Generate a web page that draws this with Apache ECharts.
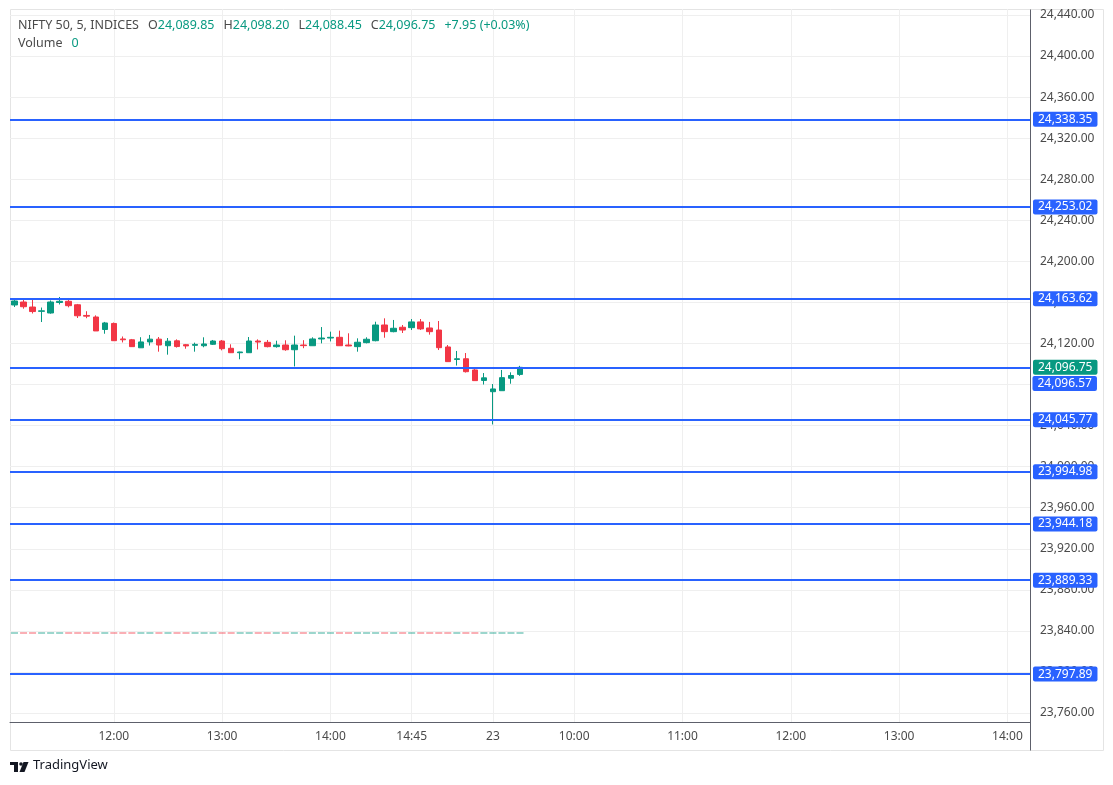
<!DOCTYPE html>
<html>
<head>
<meta charset="utf-8">
<title>NIFTY 50, 5</title>
<script src="https://cdn.jsdelivr.net/npm/echarts@6/dist/echarts.min.js"></script>
<style>
  html, body { margin: 0; padding: 0; background: #fff; }
  #main { width: 1113px; height: 785px; }
</style>
</head>
<body>
<div id="main"></div>
<script>
// 5 min candles, 22nd 11:05 -> 23rd 09:35
const opens = [24157.5, 24160.4, 24155.5, 24151.3, 24149.7, 24159.9, 24161.1, 24157.7, 24147.3, 24145.8,
  24133.6, 24139.5, 24124.4, 24123.6, 24115.8, 24121.5, 24124.2, 24117.8, 24122.6, 24118.8,
  24118.2, 24117.8, 24119.2, 24122.4, 24115.3, 24111.0, 24111.0, 24122.4, 24121.1, 24116.9,
  24118.5, 24113.9, 24118.5, 24117.8, 24124.4, 24125.3, 24126.0, 24118.5, 24116.9, 24120.8,
  24122.7, 24138.0, 24131.5, 24135.8, 24135.4, 24141.0, 24135.1, 24133.1, 24116.6, 24104.4,
  24105.1, 24094.2, 24084.0, 24073.0, 24074.0, 24086.1, 24089.85]
const highs = [24162.8, 24163.0, 24162.8, 24155.0, 24161.9, 24165.3, 24164.3, 24158.5, 24151.4, 24147.4,
  24141.0, 24140.4, 24126.8, 24124.4, 24126.1, 24128.3, 24126.3, 24125.3, 24124.0, 24119.5,
  24120.8, 24126.0, 24123.4, 24123.4, 24119.2, 24112.0, 24126.3, 24124.0, 24123.4, 24122.7,
  24123.1, 24127.6, 24123.2, 24126.0, 24136.0, 24131.5, 24132.5, 24129.9, 24125.0, 24126.0,
  24141.2, 24144.5, 24142.9, 24138.0, 24143.8, 24143.8, 24141.0, 24141.9, 24118.5, 24112.7,
  24110.7, 24095.4, 24091.2, 24080.5, 24094.2, 24091.9, 24098.20]
const lows = [24155.5, 24153.9, 24149.2, 24140.9, 24149.0, 24158.0, 24155.2, 24144.8, 24144.6, 24132.2,
  24129.5, 24122.4, 24121.0, 24116.8, 24115.6, 24118.0, 24112.0, 24109.1, 24116.0, 24114.9,
  24112.0, 24116.3, 24118.5, 24113.3, 24110.7, 24104.6, 24111.0, 24114.2, 24116.2, 24115.9,
  24112.9, 24097.6, 24115.4, 24117.8, 24120.1, 24122.0, 24117.8, 24117.3, 24112.0, 24120.1,
  24122.1, 24125.6, 24130.9, 24130.2, 24133.1, 24133.1, 24128.6, 24113.6, 24102.3, 24098.5,
  24091.7, 24083.8, 24080.0, 24041.1, 24074.0, 24080.8, 24088.45]
const closes = [24161.4, 24155.8, 24151.1, 24151.8, 24160.4, 24161.1, 24156.8, 24147.0, 24146.6, 24132.2,
  24140.0, 24122.7, 24123.6, 24116.9, 24121.5, 24124.2, 24118.5, 24122.2, 24117.0, 24117.6,
  24119.1, 24119.5, 24122.4, 24114.9, 24111.0, 24111.7, 24122.4, 24121.4, 24116.9, 24118.5,
  24113.9, 24118.5, 24117.9, 24124.4, 24125.3, 24126.0, 24117.8, 24117.6, 24121.2, 24124.1,
  24138.0, 24131.5, 24134.8, 24133.1, 24141.0, 24134.2, 24131.5, 24115.9, 24102.3, 24105.1,
  24092.5, 24083.8, 24086.5, 24075.7, 24086.7, 24088.80, 24096.75]
const volumes = opens.map(() => 0) // index has no volume

// horizontal levels drawn on the chart
const levels = [24338.35, 24253.02, 24163.62, 24096.57, 24045.77, 23994.98, 23944.18, 23889.33, 23797.89]
const shiftedLevel = 24096.57 // its tag sits under the last price tag

// time axis: 22nd 11:05-15:25, 23rd 09:15-14:10
const categories = []
function session(day, from, to) {
  for (let m = from; m <= to; m += 5) {
    const hh = String(Math.floor(m / 60)).padStart(2, '0')
    const mm = String(m % 60).padStart(2, '0')
    categories.push(day + ' ' + hh + ':' + mm)
  }
}
session('22', 11 * 60 + 5, 15 * 60 + 25)
session('23', 9 * 60 + 15, 14 * 60 + 10)
const tickCats = ['22 12:00', '22 13:00', '22 14:00', '22 14:45', '23 09:15', '23 10:00', '23 11:00', '23 12:00', '23 13:00', '23 14:00']
const dayStarts = ['23 09:15']

const yMin = 23760, yMax = 24440, yStep = 40

const UP = '#089981', DOWN = '#F23645', BLUE = '#2962FF'
const TEXT = '#4a4a4a', GRID = '#efefef', SCALE = '#5d606b'
const FONT = '"Noto Sans", sans-serif'

const fmt = (v) => Number(v).toLocaleString('en-US', { minimumFractionDigits: 2, maximumFractionDigits: 2 })
const tickSet = new Set(tickCats)
const isTick = (i, v) => tickSet.has(v)

const last = opens.length - 1
const prevClose = closes[last - 1]
const chg = closes[last] - prevClose
const chgPct = chg / prevClose * 100
const sign = chg >= 0 ? '+' : ''

const header = '{n|NIFTY 50, 5, INDICES}\u2002{n|O}{g|' + fmt(opens[last]) + '}\u2002{n|H}{g|' + fmt(highs[last]) +
  '}\u2002{n|L}{g|' + fmt(lows[last]) + '}\u2002{n|C}{g|' + fmt(closes[last]) + '}\u2002{g|' +
  sign + chg.toFixed(2) + ' (' + sign + chgPct.toFixed(2) + '%)}\n{n|Volume}\u2002{g|' + volumes[last] + '}'

const tagLabel = {
  show: true,
  position: 'end',
  distance: 3,
  color: '#fff',
  backgroundColor: BLUE,
  padding: [2, 5, 1, 5],
  borderRadius: 2,
  fontSize: 12,
  fontFamily: FONT,
  formatter: (p) => fmt(p.value),
}

const chartDom = document.getElementById('main')
const myChart = echarts.init(chartDom, null, { renderer: 'canvas' })
const option = {
  animation: false,
  backgroundColor: '#fff',
  textStyle: { fontFamily: FONT },
  title: {
    left: 13,
    top: 11,
    text: header,
    textStyle: {
      fontWeight: 'normal',
      rich: {
        n: { color: TEXT, fontSize: 12.5, fontWeight: 'normal', fontFamily: FONT, lineHeight: 17 },
        g: { color: UP, fontSize: 12.5, fontWeight: 'normal', fontFamily: FONT, lineHeight: 17 },
      },
    },
  },
  grid: [
    // whole pane: vertical grid + time scale
    { left: 10, right: 83, top: 9, height: 713, outerBoundsMode: 'none' },
    // price pane
    { left: 10, right: 83, top: 15, height: 698, outerBoundsMode: 'none' },
    // volume
    { left: 10, right: 83, top: 500, height: 134, outerBoundsMode: 'none' },
  ],
  xAxis: [
    {
      gridIndex: 0,
      type: 'category',
      data: categories,
      boundaryGap: true,
      axisLine: { lineStyle: { color: SCALE, width: 1 } },
      axisTick: { show: false },
      axisLabel: {
        interval: isTick,
        margin: 9,
        color: TEXT,
        fontSize: 12,
        formatter: (v) => dayStarts.includes(v) ? v.split(' ')[0] : v.split(' ')[1],
      },
      splitLine: { show: true, interval: isTick, alignWithLabel: true, lineStyle: { color: GRID, width: 1 } },
    },
    { gridIndex: 1, type: 'category', data: categories, boundaryGap: true, show: false },
    { gridIndex: 2, type: 'category', data: categories, boundaryGap: true, show: false },
  ],
  yAxis: [
    { gridIndex: 0, type: 'value', min: 0, max: 1, show: false },
    {
      gridIndex: 1,
      type: 'value',
      position: 'right',
      min: yMin,
      max: yMax,
      interval: yStep,
      axisLine: { show: false },
      axisTick: { show: false },
      axisLabel: { margin: 10, color: TEXT, fontSize: 12, formatter: (v) => fmt(v) },
      splitLine: { lineStyle: { color: GRID, width: 1 } },
    },
    { gridIndex: 2, type: 'value', min: 0, max: 1, show: false },
  ],
  series: [
    {
      name: 'NIFTY 50',
      type: 'candlestick',
      xAxisIndex: 1,
      yAxisIndex: 1,
      barWidth: 6,
      itemStyle: { color: UP, color0: DOWN, borderColor: UP, borderColor0: DOWN, borderWidth: 1 },
      data: opens.map((o, i) => [o, closes[i], lows[i], highs[i]]),
      markLine: {
        silent: true,
        symbol: ['none', 'none'],
        precision: 2,
        label: tagLabel,
        lineStyle: { color: BLUE, width: 2, type: 'solid' },
        data: [
          {
            yAxis: closes[last],
            lineStyle: { color: UP, width: 1, type: 'dotted' },
            label: { backgroundColor: UP },
          },
        ].concat(levels.map((v) => ({
          yAxis: v,
          label: { show: v !== shiftedLevel },
        }))),
      },
      markPoint: {
        silent: true,
        symbol: 'circle',
        symbolSize: 0,
        data: [
          {
            coord: [categories[categories.length - 1], shiftedLevel],
            value: shiftedLevel,
            label: Object.assign({}, tagLabel, {
              position: 'right',
              distance: 7,
              offset: [0, 16],
            }),
          },
        ],
      },
    },
    {
      name: 'Volume',
      type: 'bar',
      xAxisIndex: 2,
      yAxisIndex: 2,
      barWidth: 7,
      barMinHeight: 2,
      itemStyle: {
        color: (p) => closes[p.dataIndex] >= opens[p.dataIndex] ? 'rgba(8,153,129,0.4)' : 'rgba(242,54,69,0.4)',
      },
      data: volumes,
    },
  ],
  graphic: [
    // pane frame
    {
      type: 'rect', silent: true, z: -1,
      shape: { x: 10.5, y: 9.5, width: 1093, height: 741 },
      style: { fill: null, stroke: '#e4e4e4', lineWidth: 1 },
    },
    // price scale border
    {
      type: 'line', silent: true,
      shape: { x1: 1030.5, y1: 9.5, x2: 1030.5, y2: 750.5 },
      style: { stroke: SCALE, lineWidth: 1 },
    },
    // logo
    { type: 'rect', silent: true, shape: { x: 10, y: 762, width: 8, height: 3 }, style: { fill: '#131722' } },
    { type: 'rect', silent: true, shape: { x: 14, y: 762, width: 4, height: 10 }, style: { fill: '#131722' } },
    { type: 'circle', silent: true, shape: { cx: 21, cy: 764, r: 1.8 }, style: { fill: '#131722' } },
    {
      type: 'polygon', silent: true,
      shape: { points: [[23.5, 762], [28.5, 762], [24.5, 772], [19.5, 772]] },
      style: { fill: '#131722' },
    },
    {
      type: 'text', silent: true, left: 33, top: 759,
      style: { text: 'TradingView', fill: '#131722', font: '13px ' + FONT },
    },
  ],
}
option && myChart.setOption(option)
</script>
</body>
</html>
